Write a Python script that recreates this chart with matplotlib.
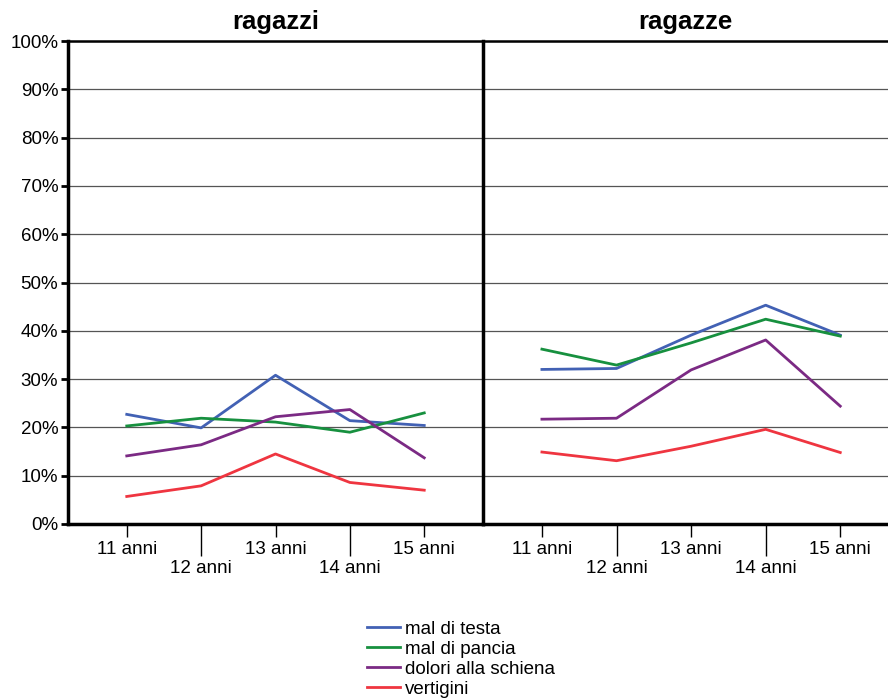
import matplotlib
matplotlib.use("Agg")
import matplotlib.pyplot as plt
from matplotlib.ticker import FixedLocator, PercentFormatter

plt.rcParams['font.family'] = ['Liberation Sans', 'DejaVu Sans']

eta = ["11 anni", "12 anni", "13 anni", "14 anni", "15 anni"]
pannelli = ["ragazzi", "ragazze"]
serie = ["mal di testa", "mal di pancia", "dolori alla schiena", "vertigini"]
colori = ["#4261B4", "#17903F", "#7B2A84", "#EF3540"]

# valori in percentuale
ragazzi = {
    "mal di testa":        [22.7, 19.9, 30.8, 21.4, 20.4],
    "mal di pancia":       [20.3, 21.9, 21.1, 19.0, 23.0],
    "dolori alla schiena": [14.1, 16.4, 22.2, 23.7, 13.7],
    "vertigini":           [5.7, 7.9, 14.5, 8.6, 7.0],
}
ragazze = {
    "mal di testa":        [32.0, 32.2, 39.1, 45.3, 39.1],
    "mal di pancia":       [36.2, 32.9, 37.5, 42.4, 38.9],
    "dolori alla schiena": [21.7, 21.9, 31.9, 38.1, 24.4],
    "vertigini":           [14.9, 13.1, 16.1, 19.6, 14.8],
}

fig = plt.figure(figsize=(8.88, 6.98), dpi=100)
bottom = 1 - 524 / 698
height = (524 - 41) / 698
ax1 = fig.add_axes([68 / 888, bottom, (483 - 68) / 888, height])
ax2 = fig.add_axes([483 / 888, bottom, (888 - 483) / 888, height])

x = list(range(len(eta)))
for ax, dati, titolo in [(ax1, ragazzi, pannelli[0]), (ax2, ragazze, pannelli[1])]:
    for nome, col in zip(serie, colori):
        ax.plot(x, dati[nome], color=col, lw=2, label=nome, zorder=3)
    ax.set_ylim(0, 100)
    ax.set_yticks(range(0, 101, 10))
    ax.yaxis.set_major_formatter(PercentFormatter(decimals=0))
    ax.grid(axis='y', color='#555555', lw=0.9, zorder=1)
    ax.set_title(titolo, fontsize=18.5, fontweight='bold', pad=9)
    for s in ['left', 'bottom']:
        ax.spines[s].set_linewidth(2.5)
    ax.spines['top'].set_linewidth(1.8)
    ax.spines['right'].set_visible(False)
    # etichette alternate su due righe
    ax.xaxis.set_major_locator(FixedLocator([0, 2, 4]))
    ax.xaxis.set_minor_locator(FixedLocator([1, 3]))
    ax.set_xticklabels([eta[0], eta[2], eta[4]])
    ax.set_xticklabels([eta[1], eta[3]], minor=True)
    ax.tick_params(axis='x', which='major', length=9, width=1, pad=3, labelsize=13.5)
    ax.tick_params(axis='x', which='minor', length=23, width=1, pad=3, labelsize=13.5)

ax1.set_xlim(-0.79, 4.79)
ax2.set_xlim(-0.79, 4.64)
ax1.tick_params(axis='y', length=5, width=2, labelsize=13.5, pad=2)
ax2.tick_params(axis='y', left=False, labelleft=False)

h, l = ax1.get_legend_handles_labels()
fig.legend(h, l, loc='upper left', bbox_to_anchor=(358 / 888, 1 - 611 / 698),
           frameon=False, fontsize=13.5, handlelength=1.75, handletextpad=0.25,
           labelspacing=0.16, borderpad=0)

fig.savefig("out.png", dpi=100)
